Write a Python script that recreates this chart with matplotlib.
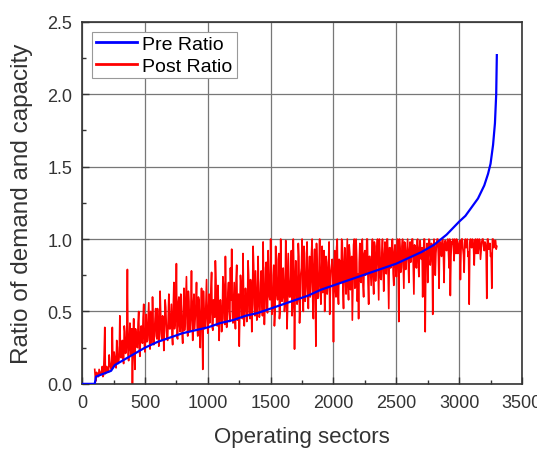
import numpy as np
import matplotlib
matplotlib.use("Agg")
import matplotlib.pyplot as plt
from matplotlib.ticker import MultipleLocator

plt.rcParams['font.family'] = ['Liberation Sans', 'DejaVu Sans']

# Pre ratio (sorted)
pre_sectors = [0, 100, 110, 200, 230, 260, 300, 400, 500, 600, 700, 800, 900,
               1000, 1100, 1200, 1300, 1400, 1500, 1600, 1700, 1800, 1900,
               2000, 2100, 2200, 2300, 2400, 2500, 2600, 2700, 2800, 2900,
               3000, 3050, 3100, 3150, 3200, 3230, 3250, 3270, 3285, 3295, 3300]
pre_ratio = [0.0, 0.0, 0.05, 0.08, 0.09, 0.13, 0.15, 0.20, 0.25, 0.29, 0.32,
             0.35, 0.37, 0.39, 0.42, 0.44, 0.47, 0.49, 0.52, 0.55, 0.58, 0.61,
             0.65, 0.68, 0.71, 0.74, 0.77, 0.80, 0.83, 0.87, 0.91, 0.96, 1.03,
             1.12, 1.16, 1.22, 1.28, 1.37, 1.45, 1.52, 1.65, 1.80, 2.00, 2.27]

# Post ratio, one value every 10 sectors from 100 to 3300
post_ratio = [
    0.10, 0.02, 0.06, 0.05, 0.08, 0.07, 0.12, 0.06, 0.39, 0.09,
    0.10, 0.08, 0.14, 0.10, 0.39, 0.12, 0.18, 0.11, 0.25, 0.15,
    0.47, 0.18, 0.30, 0.14, 0.36, 0.22, 0.79, 0.16, 0.42, 0.20,
    0.00, 0.45, 0.10, 0.33, 0.25, 0.50, 0.19, 0.40, 0.28, 0.55,
    0.22, 0.48, 0.30, 0.56, 0.24, 0.38, 0.60, 0.27, 0.45, 0.33,
    0.52, 0.26, 0.64, 0.35, 0.47, 0.23, 0.58, 0.40, 0.30, 0.62,
    0.38, 0.55, 0.27, 0.70, 0.42, 0.83, 0.31, 0.60, 0.36, 0.50,
    0.28, 0.66, 0.44, 0.74, 0.33, 0.57, 0.40, 0.78, 0.30, 0.62,
    0.46, 0.70, 0.33, 0.58, 0.25, 0.66, 0.10, 0.52, 0.40, 0.72,
    0.35, 0.62, 0.48, 0.77, 0.37, 0.56, 0.85, 0.41, 0.68, 0.30,
    0.58, 0.36, 0.74, 0.45, 0.88, 0.39, 0.63, 0.50, 0.80, 0.93,
    0.42, 0.70, 0.38, 0.82, 0.52, 0.26, 0.75, 0.47, 0.90, 0.40,
    0.66, 0.43, 0.85, 0.50, 0.72, 0.36, 0.95, 0.55, 0.78, 0.44,
    0.88, 0.46, 0.70, 0.58, 0.98, 0.41, 0.80, 0.52, 0.92, 0.60,
    1.00, 0.48, 0.75, 0.40, 0.95, 0.62, 0.86, 0.45, 1.00, 0.57,
    0.80, 0.50, 0.99, 0.38, 0.90, 0.60, 0.72, 0.47, 1.00, 0.24,
    0.85, 0.55, 0.97, 0.42, 0.76, 1.00, 0.50, 0.90, 0.64, 0.98,
    0.52, 0.88, 0.70, 1.00, 0.45, 0.93, 0.26, 0.80, 0.60, 1.00,
    0.55, 0.95, 0.74, 0.50, 0.88, 0.62, 0.84, 0.48, 0.78, 0.86,
    0.29, 0.92, 0.60, 1.00, 0.55, 0.85, 0.70, 0.98, 0.52, 0.94,
    0.62, 1.00, 0.58, 0.90, 0.75, 0.44, 0.96, 0.66, 1.00, 0.57,
    0.45, 0.97, 0.70, 1.00, 0.60, 0.92, 0.78, 1.00, 0.55, 0.88,
    0.68, 1.00, 0.62, 0.95, 0.80, 1.00, 0.58, 0.90, 0.72, 1.00,
    0.64, 0.98, 0.76, 1.00, 0.52, 0.94, 0.82, 1.00, 0.68, 0.96,
    0.74, 1.00, 0.43, 0.92, 0.80, 1.00, 0.66, 0.97, 0.85, 1.00,
    0.70, 0.98, 0.88, 1.00, 0.62, 0.95, 0.80, 1.00, 0.74, 0.99,
    0.86, 0.60, 1.00, 0.36, 0.92, 0.70, 1.00, 0.82, 0.97, 0.48,
    1.00, 0.75, 0.96, 1.00, 0.66, 0.98, 0.88, 1.00, 0.70, 0.99,
    0.92, 1.00, 0.80, 0.61, 0.98, 1.00, 0.85, 0.96, 1.00, 0.90,
    0.97, 0.72, 1.00, 0.93, 0.77, 1.00, 0.95, 0.88, 0.55, 1.00,
    0.94, 0.99, 0.82, 1.00, 0.96, 0.90, 1.00, 0.86, 0.98, 1.00,
    0.92, 0.97, 0.59, 1.00, 0.95, 0.88, 0.66, 1.00, 0.96, 0.99,
    0.95,
]
# Post ratio at the sectors in between (105, 115, ... 3295)
post_ratio_mid = [
    0.04, 0.08, 0.05, 0.10, 0.06, 0.09, 0.05, 0.20, 0.07, 0.12,
    0.09, 0.20, 0.12, 0.16, 0.11, 0.22, 0.13, 0.30, 0.14, 0.19,
    0.22, 0.28, 0.17, 0.40, 0.21, 0.33, 0.20, 0.30, 0.24, 0.38,
    0.30, 0.21, 0.38, 0.26, 0.42, 0.23, 0.35, 0.30, 0.46, 0.27,
    0.36, 0.29, 0.44, 0.32, 0.50, 0.28, 0.41, 0.35, 0.52, 0.31,
    0.40, 0.33, 0.48, 0.30, 0.44, 0.36, 0.53, 0.32, 0.45, 0.38,
    0.46, 0.34, 0.52, 0.38, 0.48, 0.32, 0.56, 0.40, 0.62, 0.35,
    0.50, 0.37, 0.58, 0.42, 0.64, 0.36, 0.52, 0.44, 0.55, 0.38,
    0.54, 0.40, 0.60, 0.36, 0.50, 0.43, 0.64, 0.38, 0.57, 0.45,
    0.50, 0.42, 0.66, 0.39, 0.58, 0.46, 0.72, 0.40, 0.55, 0.48,
    0.52, 0.44, 0.68, 0.41, 0.60, 0.48, 0.70, 0.43, 0.58, 0.50,
    0.55, 0.46, 0.72, 0.44, 0.62, 0.50, 0.68, 0.45, 0.60, 0.52,
    0.58, 0.48, 0.75, 0.45, 0.64, 0.52, 0.82, 0.47, 0.62, 0.55,
    0.62, 0.50, 0.78, 0.47, 0.66, 0.55, 0.84, 0.49, 0.70, 0.58,
    0.66, 0.52, 0.82, 0.49, 0.70, 0.58, 0.90, 0.50, 0.76, 0.60,
    0.68, 0.55, 0.85, 0.52, 0.74, 0.60, 0.92, 0.54, 0.78, 0.63,
    0.70, 0.58, 0.88, 0.54, 0.80, 0.62, 0.95, 0.57, 0.76, 0.66,
    0.74, 0.60, 0.90, 0.57, 0.82, 0.66, 0.97, 0.59, 0.80, 0.68,
    0.76, 0.63, 0.92, 0.60, 0.84, 0.68, 0.98, 0.62, 0.82, 0.72,
    0.78, 0.66, 0.94, 0.63, 0.86, 0.70, 1.00, 0.64, 0.84, 0.74,
    0.80, 0.68, 0.96, 0.65, 0.88, 0.72, 1.00, 0.67, 0.86, 0.76,
    0.84, 0.71, 0.97, 0.68, 0.90, 0.75, 1.00, 0.70, 0.88, 0.78,
    0.86, 0.74, 0.98, 0.71, 0.92, 0.77, 1.00, 0.73, 0.90, 0.80,
    0.88, 0.77, 1.00, 0.74, 0.94, 0.80, 0.99, 0.76, 0.91, 0.82,
    0.90, 0.80, 1.00, 0.77, 0.95, 0.83, 0.98, 0.79, 0.93, 0.85,
    0.92, 0.84, 1.00, 0.80, 0.96, 0.86, 0.99, 0.83, 0.94, 0.88,
    0.94, 0.88, 1.00, 0.84, 0.97, 0.90, 0.99, 0.87, 0.95, 0.91,
    0.96, 0.90, 1.00, 0.88, 0.98, 0.92, 1.00, 0.89, 0.97, 0.93,
    0.98, 0.91, 1.00, 0.88, 0.97, 0.94, 1.00, 0.90, 0.99, 0.93,
    0.99, 0.92, 1.00, 0.89, 0.98, 0.94, 1.00, 0.91, 0.97, 0.95,
    1.00, 0.93, 0.98, 0.90, 1.00, 0.94, 0.99, 0.92, 1.00, 0.95,
    0.98, 0.91, 1.00, 0.93, 0.97, 0.90, 1.00, 0.94, 0.99, 0.93,
]

# merge both lists into one series ordered by sector
sec_a = 100 + 10 * np.arange(len(post_ratio))
sec_b = 105 + 10 * np.arange(len(post_ratio_mid))
post_sectors = np.concatenate([sec_a, sec_b])
post_values = np.concatenate([post_ratio, post_ratio_mid])
order = np.argsort(post_sectors, kind='stable')
post_sectors = post_sectors[order]
post_values = post_values[order]

fig = plt.figure(figsize=(5.37, 4.56), dpi=100)
ax = fig.add_axes([0.153, 0.156, 0.819, 0.794])

ax.plot(pre_sectors, pre_ratio, color='#0000ff', lw=1.6, label='Pre Ratio', zorder=3)
ax.plot(post_sectors, post_values, color='#ff0000', lw=1.2, label='Post Ratio', zorder=2)

ax.set_xlim(0, 3500)
ax.set_ylim(0, 2.5)
ax.xaxis.set_major_locator(MultipleLocator(500))
ax.xaxis.set_minor_locator(MultipleLocator(250))
ax.yaxis.set_major_locator(MultipleLocator(0.5))
ax.yaxis.set_minor_locator(MultipleLocator(0.25))
ax.yaxis.set_major_formatter(plt.FormatStrFormatter('%.1f'))
ax.tick_params(which='both', direction='in', labelsize=13, colors='#333333',
               labelcolor='#333333', pad=7)
ax.tick_params(which='major', length=5, width=1)
ax.tick_params(which='minor', length=3, width=1)
ax.grid(True, which='major', color='#777777', lw=0.9)
for s in ax.spines.values():
    s.set_linewidth(1.2)
    s.set_color('#333333')

ax.set_xlabel('Operating sectors', fontsize=16, color='#333333', labelpad=11)
ax.set_ylabel('Ratio of demand and capacity', fontsize=17.5, color='#333333', labelpad=10)

leg = ax.legend(loc='upper left', fontsize=14, fancybox=False, framealpha=1,
                edgecolor='#999999', handlelength=2.1, handletextpad=0.3,
                borderpad=0.2, labelspacing=0.2, borderaxespad=0.5)
leg.get_frame().set_linewidth(0.8)
for h in leg.get_lines():
    h.set_linewidth(2.0)

fig.savefig('out.png', dpi=100)
